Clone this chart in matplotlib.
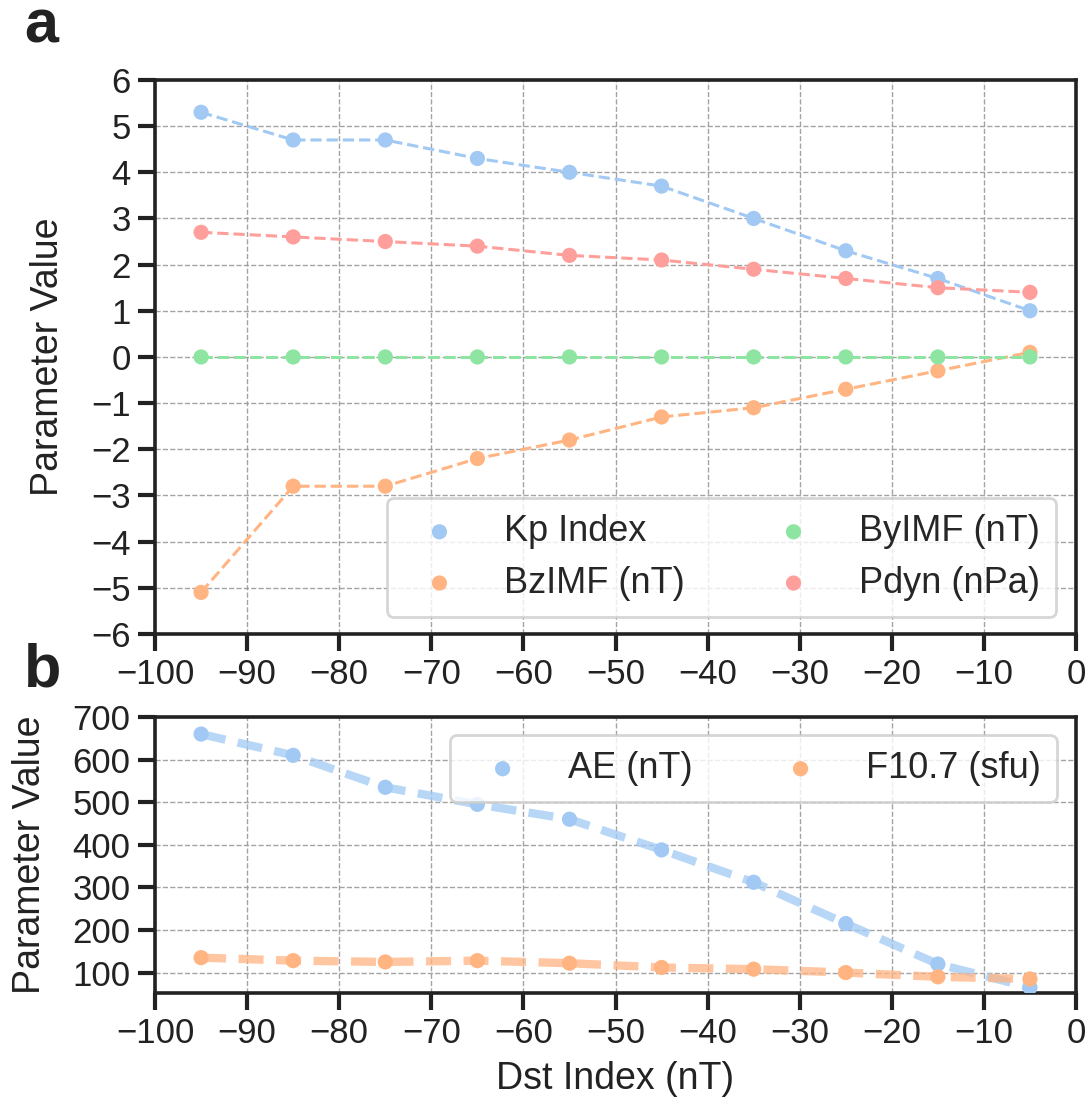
import matplotlib.pyplot as plt
import seaborn as sns

# Dst bins (nT)
dst = [-95, -85, -75, -65, -55, -45, -35, -25, -15, -5]

# panel a
kp = [5.3, 4.7, 4.7, 4.3, 4.0, 3.7, 3.0, 2.3, 1.7, 1.0]
bz = [-5.1, -2.8, -2.8, -2.2, -1.8, -1.3, -1.1, -0.7, -0.3, 0.1]
by = [0, 0, 0, 0, 0, 0, 0, 0, 0, 0]
pdyn = [2.7, 2.6, 2.5, 2.4, 2.2, 2.1, 1.9, 1.7, 1.5, 1.4]

# panel b
ae = [660, 610, 535, 495, 460, 388, 312, 215, 120, 65]
f107 = [135, 128, 125, 128, 122, 112, 108, 100, 90, 85]

sns.set_theme(style='ticks')
plt.rcParams['font.family'] = ['Liberation Sans', 'DejaVu Sans']

pal = sns.color_palette('pastel')
c_blue, c_orange, c_green, c_red = pal[0], pal[1], pal[2], pal[3]

fig = plt.figure(figsize=(10.88, 11.12), dpi=100)
ax1 = fig.add_axes([0.1425, 0.4299, 0.8465, 0.4982])
ax2 = fig.add_axes([0.1425, 0.1070, 0.8465, 0.2482])

FS = 25
LFS = 27
LEG = dict(ncol=2, fontsize=26, frameon=True, borderpad=0.45,
           labelspacing=0.45, handlelength=2.0, handletextpad=0.8,
           columnspacing=2.0, markerscale=1.0, borderaxespad=0)


def style_axis(ax):
    ax.grid(True, linestyle='--', color='#999999', linewidth=1.0, alpha=0.9)
    ax.set_axisbelow(True)
    for sp in ax.spines.values():
        sp.set_linewidth(2.6)
        sp.set_color('#222222')
    ax.tick_params(axis='both', which='major', length=12.5, width=3,
                   labelsize=FS, color='#222222', labelcolor='#222222', pad=5)
    ax.set_xlim(-100, 0)
    ax.set_xticks(range(-100, 1, 10))


def style_legend(leg):
    leg.get_frame().set_edgecolor('#cccccc')
    leg.get_frame().set_linewidth(2)


# --- a ---
series_a = [(kp, c_blue, 'Kp Index'), (bz, c_orange, 'BzIMF (nT)'),
            (by, c_green, 'ByIMF (nT)'), (pdyn, c_red, 'Pdyn (nPa)')]
for vals, col, lab in series_a:
    ax1.plot(dst, vals, linestyle='--', color=col, linewidth=2.2, zorder=2)
    ax1.scatter(dst, vals, s=120, color=col, label=lab, zorder=3,
                edgecolors='none')
style_axis(ax1)
ax1.set_ylim(-6, 6)
ax1.set_yticks(range(-6, 7))
ax1.set_ylabel('Parameter Value', fontsize=LFS, color='#222222', labelpad=18)
leg1 = ax1.legend(loc='lower right', bbox_to_anchor=(0.978, 0.031), **LEG)
style_legend(leg1)

# --- b ---
for vals, col, lab in [(ae, c_blue, 'AE (nT)'), (f107, c_orange, 'F10.7 (sfu)')]:
    ax2.plot(dst, vals, linestyle='--', dashes=(3, 1.5), color=col,
             linewidth=6, alpha=0.75, zorder=2)
    ax2.scatter(dst, vals, s=120, color=col, label=lab, zorder=3,
                edgecolors='none')
style_axis(ax2)
ax2.set_ylim(52, 700)
ax2.set_yticks(range(100, 701, 100))
ax2.set_ylabel('Parameter Value', fontsize=LFS, color='#222222', labelpad=18)
ax2.set_xlabel('Dst Index (nT)', fontsize=LFS, color='#222222', labelpad=8)
leg2 = ax2.legend(loc='upper right', bbox_to_anchor=(0.979, 0.935), **LEG)
style_legend(leg2)

fig.text(0.022, 0.962, 'a', fontsize=44, fontweight='bold', color='#222222')
fig.text(0.022, 0.383, 'b', fontsize=44, fontweight='bold', color='#222222')

fig.savefig('out.png', dpi=100)
